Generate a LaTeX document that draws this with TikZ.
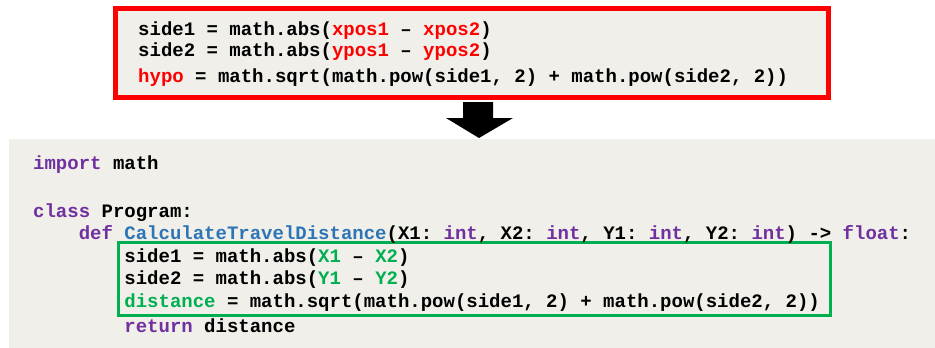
\documentclass[tikz,border=0pt]{standalone}
\usepackage{fontspec}
\setmonofont{Liberation Mono}
\definecolor{panelbg}{HTML}{F0EFE9}
\definecolor{kwpurple}{HTML}{7030A0}
\definecolor{fnblue}{HTML}{2E75B6}
\definecolor{hlgreen}{HTML}{00B050}
\definecolor{hlred}{HTML}{FF0000}
\newcommand{\kw}[1]{\textcolor{kwpurple}{#1}}
\newcommand{\fn}[1]{\textcolor{fnblue}{#1}}
\newcommand{\gr}[1]{\textcolor{hlgreen}{#1}}
\newcommand{\rd}[1]{\textcolor{hlred}{#1}}
\begin{document}
\begin{tikzpicture}[x=1pt,y=-1pt,
  code/.style={anchor=base west,inner sep=0pt,font=\fontsize{19}{22}\selectfont\ttfamily\bfseries,text=black}]
\useasboundingbox (0,0) rectangle (935,348);
% bottom panel
\fill[panelbg] (9,139) rectangle (935,348);
% top red box
\draw[hlred,line width=5pt,fill=panelbg] (115.5,8.5) rectangle (828,97.5);
% arrow
\fill[black] (463,102) -- (493,102) -- (493,118) -- (513,118) -- (479,138) -- (446,118) -- (463,118) -- cycle;
% top code
\node[code] (t1) at (138,35) {side1 = math.abs(\rd{xpos1} – \rd{xpos2})};
\node[code] (t2) at (138,56) {side2 = math.abs(\rd{ypos1} – \rd{ypos2})};
\node[code] (t3) at (138,82) {\rd{hypo} = math.sqrt(math.pow(side1, 2) + math.pow(side2, 2))};
% green box
\draw[hlgreen,line width=3pt] (118.5,242.5) rectangle (830.5,315.5);
% bottom code
\node[code] (b1) at (33,169) {\kw{import} math};
\node[code] (b2) at (33,217) {\kw{class} Program:};
\node[code] (b3) at (33,239) {\phantom{xxxx}\kw{def} \fn{CalculateTravelDistance}(X1: \kw{int}, X2: \kw{int}, Y1: \kw{int}, Y2: \kw{int}) -> \kw{float}:};
\node[code] (b4) at (33,262) {\phantom{xxxxxxxx}side1 = math.abs(\gr{X1} – \gr{X2})};
\node[code] (b5) at (33,284) {\phantom{xxxxxxxx}side2 = math.abs(\gr{Y1} – \gr{Y2})};
\node[code] (b6) at (33,307) {\phantom{xxxxxxxx}\gr{distance} = math.sqrt(math.pow(side1, 2) + math.pow(side2, 2))};
\node[code] (b7) at (33,332) {\phantom{xxxxxxxx}\kw{return} distance};
\end{tikzpicture}
\end{document}
